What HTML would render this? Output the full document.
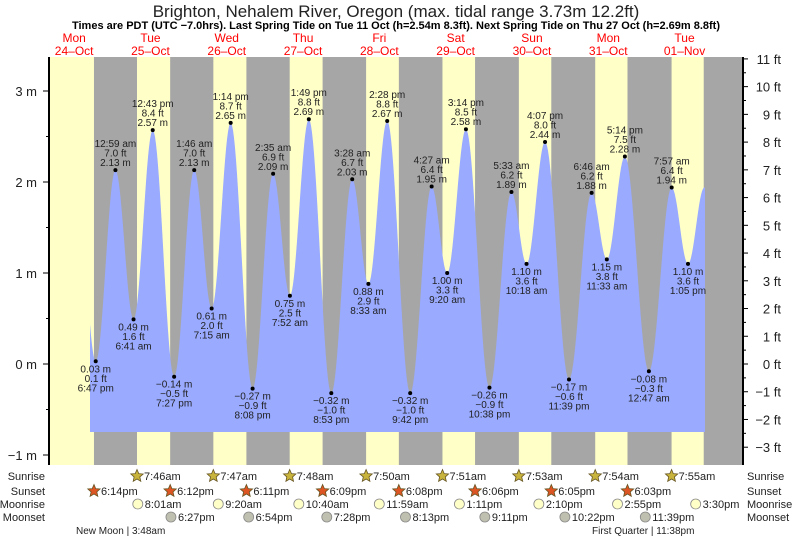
<!DOCTYPE html>
<html><head><meta charset="utf-8"><style>
body{margin:0;background:#fff}
svg{display:block;font-family:"Liberation Sans",sans-serif}
</style></head><body>
<svg id="c" width="793" height="539" viewBox="0 0 793 539">
<text x="396" y="17" font-size="17" text-anchor="middle" fill="#222">Brighton, Nehalem River, Oregon (max. tidal range 3.73m 12.2ft)</text>
<text x="396" y="29" font-size="11" font-weight="bold" text-anchor="middle" fill="#000">Times are PDT (UTC −7.0hrs). Last Spring Tide on Tue 11 Oct (h=2.54m 8.3ft). Next Spring Tide on Thu 27 Oct (h=2.69m 8.8ft)</text>
<g id="bg"></g><g id="tide"></g><g id="axes"></g><g id="labels"></g><g id="astro"></g>
</svg>
<script>
const days=["Mon","Tue","Wed","Thu","Fri","Sat","Sun","Mon","Tue"];
const dates=["24\u2013Oct","25\u2013Oct","26\u2013Oct","27\u2013Oct","28\u2013Oct","29\u2013Oct","30\u2013Oct","31\u2013Oct","01\u2013Nov"];
const tideTimes=["6:47 pm","12:59 am","6:41 am","12:43 pm","7:27 pm","1:46 am","7:15 am","1:14 pm","8:08 pm","2:35 am","7:52 am","1:49 pm","8:53 pm","3:28 am","8:33 am","2:28 pm","9:42 pm","4:27 am","9:20 am","3:14 pm","10:38 pm","5:33 am","10:18 am","4:07 pm","11:39 pm","6:46 am","11:33 am","5:14 pm","12:47 am","7:57 am","1:05 pm"];
const tideDays=[0,1,1,1,1,2,2,2,2,3,3,3,3,4,4,4,4,5,5,5,5,6,6,6,6,7,7,7,8,8,8];
const tideM=[0.03,2.13,0.49,2.57,-0.14,2.13,0.61,2.65,-0.27,2.09,0.75,2.69,-0.32,2.03,0.88,2.67,-0.32,1.95,1.00,2.58,-0.26,1.89,1.10,2.44,-0.17,1.88,1.15,2.28,-0.08,1.94,1.10];
const tideFt=["0.1","7.0","1.6","8.4","−0.5","7.0","2.0","8.7","−0.9","6.9","2.5","8.8","−1.0","6.7","2.9","8.8","−1.0","6.4","3.3","8.5","−0.9","6.2","3.6","8.0","−0.6","6.2","3.8","7.5","−0.3","6.4","3.6"];
const sunrise=["","7:46am","7:47am","7:48am","7:50am","7:51am","7:53am","7:54am","7:55am"];
const sunset=["6:14pm","6:12pm","6:11pm","6:09pm","6:08pm","6:06pm","6:05pm","6:03pm",""];
const lastSunset="6:02pm";
const moonrise=["","8:01am","9:20am","10:40am","11:59am","1:11pm","2:10pm","2:55pm","3:30pm"];
const moonset=["","6:27pm","6:54pm","7:28pm","8:13pm","9:11pm","10:22pm","11:39pm",""];
const mTicks=[-1,0,1,2,3];
const ftTicks=[-3,-2,-1,0,1,2,3,4,5,6,7,8,9,10,11];

const NS="http://www.w3.org/2000/svg";
const X0=36, PXH=76.3/24, PL=49, PR=743, PT=57, PB=465, CB=432;
const xT=(d,h)=>X0+(d*24+h)*PXH;
const yM=m=>364-m*91;
function hrs(s){const m=s.match(/(\d+):(\d+)\s*(am|pm)/);let h=+m[1]%12;if(m[3]=="pm")h+=12;return h+(+m[2])/60;}
function el(p,t,a,txt){const e=document.createElementNS(NS,t);for(const k in a)e.setAttribute(k,a[k]);if(txt!=null)e.textContent=txt;p.appendChild(e);return e;}
const bg=document.getElementById("bg"),tg=document.getElementById("tide"),ax=document.getElementById("axes"),lb=document.getElementById("labels"),as=document.getElementById("astro");

let r=el(bg,"rect",{x:PL,y:PT,width:PR-PL,height:PB-PT,fill:"#a6a6a6"});


for(let d=0;d<9;d++){
  const s=d==0?PL:xT(d,hrs(sunrise[d]));
  const e=xT(d,hrs(sunset[d]||lastSunset));
  const dr=el(bg,"rect",{x:s,y:PT,width:Math.min(e,PR)-s,height:PB-PT,fill:"#ffffc8"});
  
  
}
for(let d=0;d<9;d++){
  const x=xT(d,12);
  const t1=el(ax,"text",{x:x,y:42,"font-size":12,fill:"#f00","text-anchor":"middle"},days[d]);
  
  
  const t2=el(ax,"text",{x:x,y:55,"font-size":12,fill:"#f00","text-anchor":"middle"},dates[d]);
  
  
}
const pts=tideM.map((m,i)=>[xT(tideDays[i],hrs(tideTimes[i])),m]);
const startX=90,endX=705;
let path=`M${startX},${CB}`;
function hAt(x){
  if(x<=pts[0][0]){const a=pts[0],span=pts[1][0]-a[0];const f=(a[0]-x)/span;return a[1]+(pts[1][1]-a[1])*(1-Math.cos(Math.PI*f))/2;}
  for(let i=0;i<pts.length-1;i++){const a=pts[i],b=pts[i+1];if(x>=a[0]&&x<=b[0]){const f=(x-a[0])/(b[0]-a[0]);return a[1]+(b[1]-a[1])*(1-Math.cos(Math.PI*f))/2;}}
  const n=pts.length,a=pts[n-1],p=pts[n-2],span=a[0]-p[0];const f=(x-a[0])/span;return a[1]+(p[1]-a[1])*(1-Math.cos(Math.PI*f))/2;
}
for(let x=startX;x<=endX;x+=1)path+=` L${x},${yM(hAt(x)).toFixed(1)}`;
path+=` L${endX},${CB} Z`;
const tp=el(tg,"path",{d:path,fill:"#99aaff"});


pts.forEach((p,i)=>{
  const x=p[0],y=yM(p[1]);
  const dot=el(lb,"circle",{cx:x,cy:y,r:2,fill:"#000"});
  
  
  const high=i>0&&tideM[i]>tideM[i-1]||(i==0&&tideM[0]>tideM[1]);
  const lines=high?[tideTimes[i],tideFt[i]+" ft",tideM[i].toFixed(2)+" m"]:[tideM[i].toFixed(2).replace("-","−")+" m",tideFt[i]+" ft",tideTimes[i]];
  const y0=high?y-23:y+11;
  lines.forEach((s,k)=>{
    const t=el(lb,"text",{x:x,y:y0+k*9.5,"font-size":10,fill:"#222","text-anchor":"middle"},s);
    
    
  });
});
el(ax,"line",{x1:PL,y1:PT,x2:PL,y2:PB,stroke:"#000","stroke-width":2});
el(ax,"line",{x1:PR,y1:PT,x2:PR,y2:PB,stroke:"#000","stroke-width":2});
mTicks.forEach(m=>{
  const y=yM(m);
  el(ax,"line",{x1:PL-6,y1:y,x2:PL,y2:y,stroke:"#000"});
  const t=el(ax,"text",{x:37,y:y+5,"font-size":13,fill:"#222","text-anchor":"end"},(m<0?"−"+(-m):m)+" m");
  
  
});
for(let m=-1;m<=3.3;m+=0.5){const y=yM(m);if(y>PT)el(ax,"line",{x1:PL-3,y1:y,x2:PL,y2:y,stroke:"#000"});}
ftTicks.forEach(f=>{
  const y=yM(f*0.3048);
  el(ax,"line",{x1:PR,y1:y,x2:PR+5,y2:y,stroke:"#000"});
  const yh=yM((f+0.5)*0.3048);
  if(yh>PT)el(ax,"line",{x1:PR,y1:yh,x2:PR+3,y2:yh,stroke:"#000"});
  const t=el(ax,"text",{x:781,y:y+5,"font-size":13,fill:"#222","text-anchor":"end"},(f<0?"−"+(-f):f)+" ft");
  
  
});
const rows=[["Sunrise",476,sunrise,"star","#c8b43c"],["Sunset",491,sunset,"star","#dd5522"],["Moonrise",504,moonrise,"circ","#ffffc8"],["Moonset",517,moonset,"circ","#c0c0b0"]];
rows.forEach(([name,y,arr,shape,col])=>{
  const l=el(as,"text",{x:45,y:y+4,"font-size":11,fill:"#222","text-anchor":"end"},name);
  
  
  const r2=el(as,"text",{x:747,y:y+4,"font-size":11,fill:"#222"},name);
  
  
  arr.forEach((s,d)=>{
    if(!s)return;
    const x=xT(d,hrs(s));
    if(shape=="star"){
      let p="";for(let k=0;k<10;k++){const a=-Math.PI/2+k*Math.PI/5,rr=k%2?3:6.5;p+=(x+rr*Math.cos(a)).toFixed(1)+","+(y+rr*Math.sin(a)).toFixed(1)+" ";}
      const ic=el(as,"polygon",{points:p,fill:col,stroke:"#665522","stroke-width":0.8});
      
      
    }else{
      const ic=el(as,"circle",{cx:x,cy:y,r:5,fill:col,stroke:"#888","stroke-width":0.8});
      
      
    }
    const t=el(as,"text",{x:x+7,y:y+4,"font-size":11,fill:"#222"},s);
    
    
  });
});
const nm=el(as,"text",{x:76,y:534,"font-size":10,fill:"#222"},"New Moon | 3:48am");


const fq=el(as,"text",{x:592,y:534,"font-size":10,fill:"#222"},"First Quarter | 11:38pm");


</script>
</body></html>
